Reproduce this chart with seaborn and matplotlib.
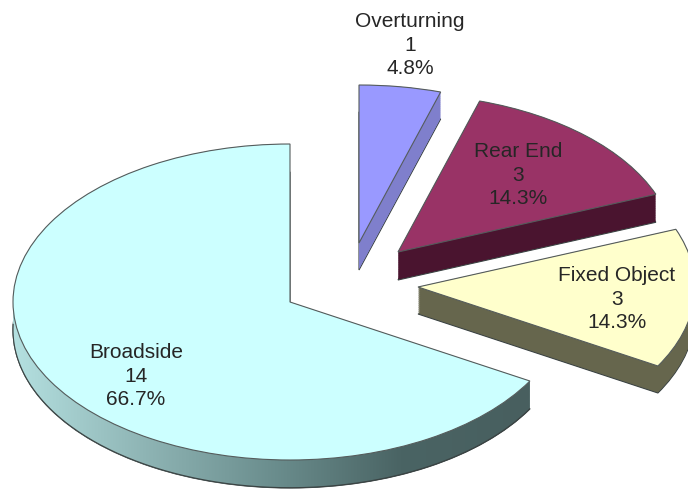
import numpy as np
import matplotlib
matplotlib.use("Agg")
import matplotlib.pyplot as plt
from matplotlib.path import Path
from matplotlib.patches import PathPatch
import seaborn as sns

categories = ["Broadside", "Fixed Object", "Rear End", "Overturning"]
counts = [14, 3, 3, 1]

top_colors = ["#CCFFFF", "#FFFFCC", "#993366", "#9999FF"]
wall_colors = ["#7FA5A5", "#66664D", "#4A142F", "#7F7FCC"]
gradient_colors = ["#B4E0E0", "#8FB5B5", "#6B8E8E", "#4A6464", "#485F5F"]

W, H = 688, 490
RX, RY = 277.0, 158.0
DEPTH = [28, 27, 28, 27]
APEX_PX = [(290, 302), (418, 287), (398, 252), (359, 243)]
LABEL_PX = [(136, 376), (617, 299), (518, 175), (410, 45)]

sns.set_theme(style="white")
plt.rcParams["font.family"] = ["Liberation Sans", "DejaVu Sans"]

fig = plt.figure(figsize=(W / 100, H / 100), dpi=100, facecolor="white")
ax = fig.add_axes([0, 0, 1, 1])


def X(px):
    return px / RX


def Y(py):
    return (H - py) / RY


def layer(shift, colors, edge=None, lw=0.8, z=1):
    wedges, _ = ax.pie(counts, colors=colors, startangle=90, radius=1,
                       wedgeprops=dict(linewidth=lw, edgecolor=edge if edge else "none"))
    for i, w in enumerate(wedges):
        w.set_center((X(APEX_PX[i][0]), Y(APEX_PX[i][1] + DEPTH[i] * shift)))
        w.set_zorder(z + i * 0.01)
    return wedges


# side walls: bottom outline first, then filled layers stepping upward
layer(1.0, wall_colors, edge="#3A4242", lw=0.8, z=1)
for s in np.linspace(0.97, 0.0, 40):
    layer(s, wall_colors, edge=None, z=2)

# gradient on the rim of the big slice
theta = np.radians(np.linspace(178, 330, 200))
ax0, ay0 = APEX_PX[0]
d0 = DEPTH[0]
tx = X(ax0) + np.cos(theta)
ty = Y(ay0) + np.sin(theta)
verts = np.vstack([np.c_[tx, ty], np.c_[tx, ty - d0 / RY][::-1], [[tx[0], ty[0]]]])
clip = PathPatch(Path(verts), transform=ax.transData, fc="none", ec="none")
ax.add_patch(clip)
cmap = sns.blend_palette(gradient_colors, as_cmap=True)
im = ax.imshow(np.linspace(0, 1, 256).reshape(1, -1), cmap=cmap, aspect="auto",
               extent=(X(13), X(530), Y(490), Y(290)), zorder=3, interpolation="bilinear")
im.set_clip_path(clip)
ax.plot(tx, ty - (d0 - 0.3) / RY, color="#3A4242", lw=0.8, zorder=3.5)

# top faces
layer(0.0, top_colors, edge="#555C5C", lw=0.8, z=4)

total = sum(counts)
for cat, val, (lx, ly) in zip(categories, counts, LABEL_PX):
    ax.text(X(lx), Y(ly), f"{cat}\n{val}\n{val / total * 100:.1f}%", ha="center", va="center",
            fontsize=15, color="#262626", linespacing=1.33, zorder=6)

ax.set_aspect("auto")
ax.set_xlim(0, W / RX)
ax.set_ylim(0, H / RY)
ax.axis("off")
fig.savefig("out.png", dpi=100, facecolor="white")
